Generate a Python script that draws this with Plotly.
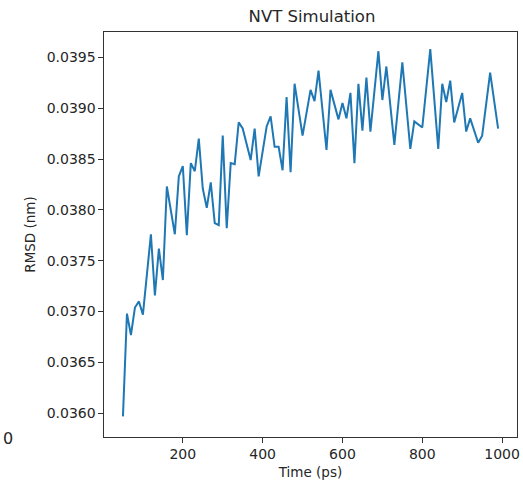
import plotly.graph_objects as go

time_ps = [50, 60, 70, 80, 90, 100, 120, 130, 140, 150, 160, 180, 190, 200, 210, 220, 230, 240,
           250, 260, 270, 280, 290, 300, 310, 320, 330, 340, 350, 370, 380, 390, 410, 420, 430,
           440, 450, 460, 470, 480, 500, 520, 530, 540, 560, 570, 590, 600, 610, 620, 630, 640,
           650, 660, 670, 690, 700, 710, 730, 750, 770, 780, 800, 820, 840, 850, 860, 870, 880,
           900, 910, 920, 940, 950, 970, 990]
rmsd_nm = [0.03597, 0.03698, 0.03677, 0.03704, 0.03710, 0.03697, 0.03776, 0.03716, 0.03762,
           0.03731, 0.03823, 0.03776, 0.03833, 0.03843, 0.03775, 0.03846, 0.03838, 0.03870,
           0.03821, 0.03802, 0.03827, 0.03787, 0.03785, 0.03873, 0.03782, 0.03846, 0.03845,
           0.03886, 0.03880, 0.03849, 0.03880, 0.03833, 0.03882, 0.03892, 0.03862, 0.03862,
           0.03839, 0.03911, 0.03837, 0.03924, 0.03873, 0.03918, 0.03907, 0.03937, 0.03859,
           0.03918, 0.03889, 0.03905, 0.03890, 0.03915, 0.03846, 0.03924, 0.03878, 0.03930,
           0.03877, 0.03956, 0.03908, 0.03941, 0.03864, 0.03945, 0.03860, 0.03887, 0.03881,
           0.03958, 0.03860, 0.03924, 0.03906, 0.03927, 0.03886, 0.03915, 0.03877, 0.03890,
           0.03866, 0.03873, 0.03935, 0.03880]

x_ticks = [200, 400, 600, 800, 1000]
y_ticks = [0.0360, 0.0365, 0.0370, 0.0375, 0.0380, 0.0385, 0.0390, 0.0395]

FONT = "DejaVu Sans"
TXT = "#262626"

fig = go.Figure()
fig.add_trace(go.Scatter(x=time_ps, y=rmsd_nm, mode="lines",
                         line=dict(color="#1f77b4", width=2), showlegend=False))

axis_common = dict(showline=True, linecolor="#333333", linewidth=1.1, mirror=True,
                   showgrid=False, zeroline=False, ticks="outside", ticklen=4.5,
                   tickwidth=1.1, tickcolor="#333333",
                   tickfont=dict(family=FONT, size=14, color=TXT))

fig.update_layout(
    width=523, height=485,
    margin=dict(l=104, r=3, t=32, b=48),
    paper_bgcolor="white", plot_bgcolor="white",
    title=dict(text="NVT Simulation", x=(104 + 520) / 2 / 523, xanchor="center",
               y=1 - 16 / 485, yanchor="middle",
               font=dict(family=FONT, size=16.5, color=TXT)),
    xaxis=dict(range=[2.5, 1037.3], tickvals=x_ticks,
               ticktext=[str(v) for v in x_ticks],
               title=dict(text="Time (ps)", standoff=6,
                          font=dict(family=FONT, size=13.5, color=TXT)),
               **axis_common),
    yaxis=dict(range=[0.035767, 0.039749], tickvals=y_ticks,
               ticktext=[f"{v:.4f}" for v in y_ticks],
               title=dict(text="RMSD (nm)", standoff=7,
                          font=dict(family=FONT, size=13.5, color=TXT)),
               **axis_common),
)

# stray label visible at the far left edge of the reference image
fig.add_annotation(text="0", xref="paper", yref="paper",
                   x=(0 - 104) / 416, y=(485 - 48 - 438.5) / 405,
                   xanchor="left", yanchor="middle", showarrow=False,
                   font=dict(family=FONT, size=16, color=TXT))

fig.write_html("out.html")
